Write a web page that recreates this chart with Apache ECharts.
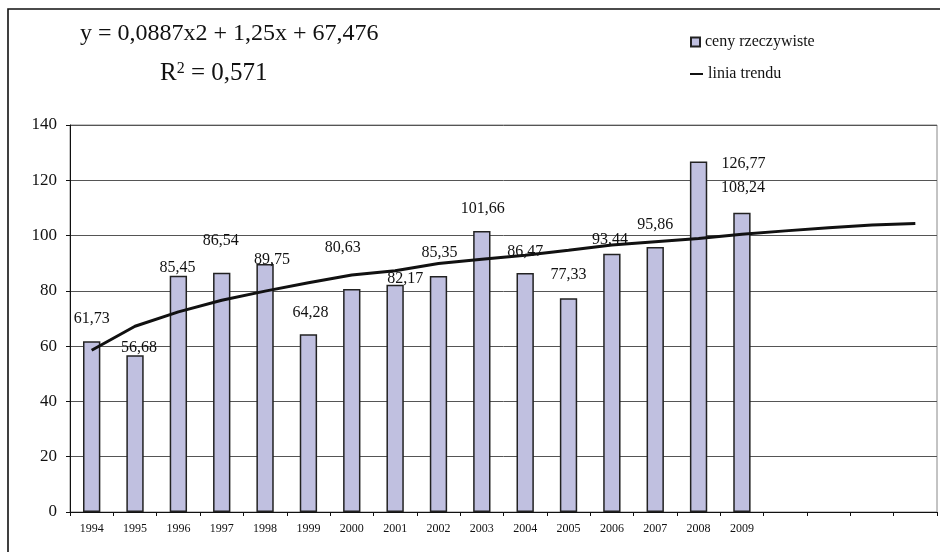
<!DOCTYPE html>
<html>
<head>
<meta charset="utf-8">
<script src="https://cdn.jsdelivr.net/npm/echarts@6/dist/echarts.min.js"></script>
<style>html,body{margin:0;padding:0;background:#fff}#c{width:940px;height:552px}</style>
</head>
<body>
<div id="c"></div>
<script>
// ---- data ----
const years = ['1994','1995','1996','1997','1998','1999','2000','2001','2002','2003','2004','2005','2006','2007','2008','2009','','','',''];
const prices = [61.73,56.68,85.45,86.54,89.75,64.28,80.63,82.17,85.35,101.66,86.47,77.33,93.44,95.86,126.77,108.24];
const trend = [58.5,67.2,72.4,76.6,79.9,82.9,85.7,87.3,89.9,91.4,92.9,94.7,96.6,97.8,98.9,100.5,101.7,102.8,103.8,104.4];
const yTicks = [0,20,40,60,80,100,120,140];
const equationText = 'y = 0,0887x2 + 1,25x + 67,476';
const r2Text = '0,571';
const seriesNames = ['ceny rzeczywiste','linia trendu'];

// ---- label placement (style only) ----
const labelDx = [0,4,-1,-1,7,2,-9,10,1,1,0,0,-2,0,45,1];
const labelDy = [-23,-8,-8,-32,-4,-22,-41,-6,-23,-22,-21,-23,-14,-22,2,-25];

const serif = '"Liberation Serif", "Times New Roman", serif';
const fmt = v => v.toFixed(2).replace('.', ',');

const barData = prices.map((v, i) => ({
  value: v,
  label: {
    show: true,
    position: ['50%', labelDy[i]],
    offset: [labelDx[i], 0],
    align: 'center',
    verticalAlign: 'middle',
    formatter: () => fmt(v),
    fontFamily: serif,
    fontSize: 16,
    color: '#111'
  }
}));

const chart = echarts.init(document.getElementById('c'), null, {renderer: 'canvas'});
chart.setOption({
  animation: false,
  backgroundColor: '#fff',
  title: [
    {text: equationText, left: 80, top: 22, padding: 0,
     textStyle: {fontFamily: serif, fontSize: 24, fontWeight: 'normal', color: '#111'}},
    {text: 'R{sup|2} = ' + r2Text, left: 160, top: 61, padding: 0,
     textStyle: {fontFamily: serif, fontSize: 25, fontWeight: 'normal', color: '#111',
       rich: {sup: {fontFamily: serif, fontSize: 16, verticalAlign: 'top', color: '#111'}}}}
  ],
  legend: [
    {data: [{name: seriesNames[0], icon: 'rect'}], left: 690, top: 34, padding: 0, itemWidth: 9, itemHeight: 9, itemGap: 5,
     textStyle: {fontFamily: serif, fontSize: 16, color: '#111'}},
    {data: [{name: seriesNames[1], icon: 'rect', itemStyle: {color: '#111'}}], left: 690, top: 66, padding: 0, itemWidth: 13, itemHeight: 2,
     textStyle: {fontFamily: serif, fontSize: 16, color: '#111', padding: [0, 0, 0, 0]}}
  ],
  graphic: [
    {type: 'rect', shape: {x: 8, y: 9, width: 1000, height: 1000}, style: {fill: 'none', stroke: '#111', lineWidth: 1.6}, z: 100}
  ],
  grid: {left: 70, top: 125, right: 3, bottom: 40, show: true, borderColor: '#888', borderWidth: 1, containLabel: false},
  xAxis: {
    type: 'category',
    data: years,
    axisLine: {lineStyle: {color: '#111', width: 1}},
    axisTick: {show: true, length: 4, lineStyle: {color: '#111'}},
    axisLabel: {fontFamily: serif, fontSize: 12, color: '#111', margin: 11, interval: 0}
  },
  yAxis: {
    type: 'value', min: yTicks[0], max: yTicks[yTicks.length - 1], interval: yTicks[1] - yTicks[0],
    axisLine: {show: true, lineStyle: {color: '#111', width: 1}},
    axisTick: {show: true, length: 4, lineStyle: {color: '#111'}},
    axisLabel: {fontFamily: serif, fontSize: 17, color: '#111', margin: 13},
    splitLine: {lineStyle: {color: '#555', width: 1}}
  },
  series: [
    {name: seriesNames[0], type: 'bar', data: barData, barWidth: '40%',
     itemStyle: {color: '#c0c0e0', borderColor: '#222', borderWidth: 1.5}, z: 2},
    {name: seriesNames[1], type: 'line', data: trend, symbol: 'none', smooth: false,
     lineStyle: {color: '#111', width: 3}, itemStyle: {color: '#111'}, z: 3}
  ]
});
</script>
</body>
</html>
